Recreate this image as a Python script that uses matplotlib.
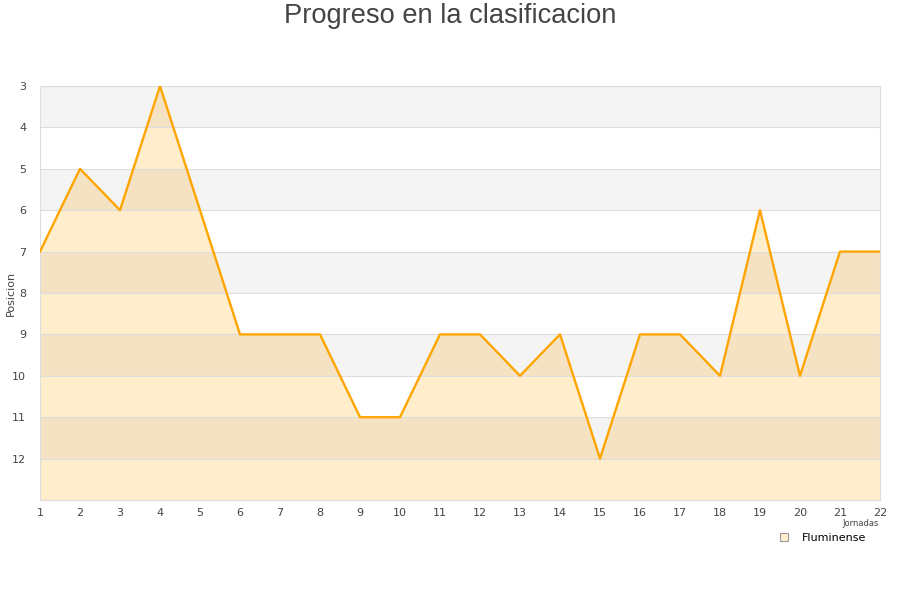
import matplotlib
matplotlib.use("Agg")
import matplotlib.pyplot as plt
from matplotlib.lines import Line2D

jornadas = list(range(1, 23))
posicion = [7, 5, 6, 3, 6, 9, 9, 9, 11, 11, 9, 9, 10, 9, 12, 9, 9, 10, 6, 10, 7, 7]
equipo = "Fluminense"

fig = plt.figure(figsize=(9, 6), dpi=100)
ax = fig.add_axes([40 / 900, 1 - 500 / 600, 840 / 900, 414 / 600])

y_top, y_bot = 3, 13
# alternating bands
for y in range(y_top, y_bot, 2):
    ax.axhspan(y, y + 1, color=(0, 0, 0, 0.045), lw=0, zorder=2)
for y in range(y_top, y_bot + 1):
    ax.axhline(y, color="#dddddd", lw=0.8, zorder=2)

ax.fill_between(jornadas, posicion, y_bot, color="#ffedcc", lw=0, zorder=1)
ax.plot(jornadas, posicion, color="#ffa500", lw=1.7, zorder=3)

ax.set_xlim(1, 22)
ax.set_ylim(y_bot, y_top)
ax.set_xticks(jornadas)
ax.set_yticks(range(3, 13))
ax.tick_params(length=0, labelsize=8, colors="#444444", pad=6)
ax.tick_params(axis="y", pad=10)
for s in ax.spines.values():
    s.set_color("#dddddd")
    s.set_linewidth(0.8)

fig.text(11 / 900, 1 - 293 / 600, "Posicion", rotation=90, ha="center", va="center",
         fontsize=8, color="#444444")
fig.text(0.5, 1 - 16 / 600, "Progreso en la clasificacion", ha="center", va="center",
         fontsize=19.6, color="#444444", family="Liberation Sans")
fig.text(879 / 900, 1 - 523 / 600, "Jornadas", ha="right", va="center",
         fontsize=6, color="#444444")

handle = Line2D([], [], marker="s", ls="", markersize=6, markerfacecolor="#ffedcc",
                markeredgecolor="#999999", markeredgewidth=0.8)
fig.legend([handle], [equipo], loc="center", bbox_to_anchor=(820 / 900, 1 - 538 / 600),
           frameon=False, fontsize=8, handletextpad=0.6, borderpad=0.3, borderaxespad=0)

fig.savefig("out.png", dpi=100)
